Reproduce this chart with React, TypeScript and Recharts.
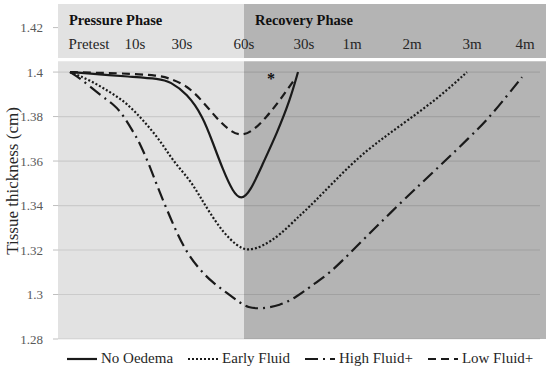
import { ComposedChart, Line, XAxis, YAxis, ReferenceArea, ReferenceLine, ReferenceDot, Legend } from 'recharts';

const FONT = '"Liberation Serif", "Times New Roman", serif';

// x positions are on the chart's own stretched time scale (pretest = 0)
const noOedema = [
  [0, 1.4], [3, 1.399], [5.7, 1.398], [9, 1.397], [10, 1.3957], [11.7, 1.3904], [13.3, 1.38],
  [14.3, 1.368], [15.3, 1.356], [16.3, 1.346], [17.1, 1.3425], [18, 1.346], [19.3, 1.359],
  [20.7, 1.3726], [22, 1.3874], [22.8, 1.4],
];
const earlyFluid = [
  [0, 1.4], [2, 1.3964], [4, 1.391], [5.7, 1.386], [7.3, 1.3784], [9, 1.3694], [10.3, 1.36],
  [12, 1.3515], [13, 1.344], [14, 1.3366], [15.3, 1.328], [16.7, 1.3218], [17.8, 1.3195],
  [19.3, 1.3218], [21, 1.3267], [23, 1.3357], [24, 1.3395], [28.3, 1.3597], [31, 1.3694],
  [33.8, 1.3784], [37, 1.389], [39.7, 1.4],
];
const highFluid = [
  [0, 1.4], [1, 1.3973], [3, 1.3897], [4.5, 1.385], [5.3, 1.3807], [6.2, 1.374], [7, 1.368],
  [8, 1.3574], [8.8, 1.3479], [9.7, 1.338], [10.7, 1.3276], [11.7, 1.3187], [13, 1.311],
  [14.3, 1.3052], [15.7, 1.3007], [17, 1.2962], [17.8, 1.2942], [19, 1.2935], [21, 1.295],
  [22.7, 1.299], [24, 1.3035], [26, 1.3096], [28.3, 1.32], [33, 1.3411], [37.3, 1.3591],
  [40, 1.3709], [41.7, 1.3784], [43.7, 1.3893], [45.2, 1.3977],
];
const lowFluid = [
  [0, 1.4], [2.3, 1.3997], [5, 1.3995], [9, 1.3985], [10, 1.397], [11.7, 1.394], [13.3, 1.3867],
  [14.7, 1.379], [16, 1.3735], [17.1, 1.3712], [18.3, 1.3735], [19.7, 1.38], [21, 1.3874], [22.5, 1.397],
];

const timeTicks = [1.9, 6.5, 11.2, 17.4, 23.4, 28.2, 34.2, 40.2, 45.5];
const timeLabels = ['Pretest', '10s', '30s', '60s', '30s', '1m', '2m', '3m', '4m'];
const yTicks = [1.28, 1.3, 1.32, 1.34, 1.36, 1.38, 1.4, 1.42];
const gridValues = [1.28, 1.3, 1.32, 1.34, 1.36, 1.38, 1.4];

const series = [
  { name: 'No Oedema', data: noOedema, dash: undefined },
  { name: 'Early Fluid', data: earlyFluid, dash: '2 2' },
  { name: 'High Fluid+', data: highFluid, dash: '13 5 2 5' },
  { name: 'Low Fluid+', data: lowFluid, dash: '8 5' },
];

const toPoints = (arr: number[][]) => arr.map(([t, v]) => ({ t, v }));

function TimeTick(props: any) {
  const i = timeTicks.indexOf(props.payload?.value);
  return (
    <text x={props.x} y={49} textAnchor="middle" fontFamily={FONT} fontSize={15} fill="#262626">
      {timeLabels[i] ?? ''}
    </text>
  );
}

function LegendBox() {
  return (
    <div style={{ display: 'flex', height: 28, alignItems: 'flex-end', paddingLeft: 67, fontFamily: FONT, fontSize: 15, color: '#262626' }}>
      {series.map((s) => (
        <div key={s.name} style={{ display: 'flex', alignItems: 'center', marginRight: 15 }}>
          <svg width={30} height={10} style={{ marginRight: 4 }}>
            <line x1={0} y1={5} x2={30} y2={5} stroke="#1a1a1a" strokeWidth={2.2} strokeDasharray={s.dash} />
          </svg>
          <span>{s.name}</span>
        </div>
      ))}
    </div>
  );
}

export default function App() {
  return (
    <div style={{ position: 'absolute', left: 0, top: 0, background: '#fff' }}>
      <ComposedChart width={550} height={369} margin={{ top: 3, right: 2, bottom: 2, left: 0 }}>
        <XAxis
          type="number"
          dataKey="t"
          orientation="top"
          height={1}
          domain={[-1.2, 47.8]}
          ticks={timeTicks}
          interval={0}
          axisLine={false}
          tickLine={false}
          tick={(p: any) => <TimeTick {...p} />}
          allowDataOverflow
        />
        <YAxis
          type="number"
          width={58}
          domain={[1.28, 1.4306]}
          ticks={yTicks}
          interval={0}
          allowDataOverflow
          axisLine={false}
          tickSize={5}
          tickMargin={10}
          tickLine={{ stroke: '#bfbfbf' }}
          tick={{ fontFamily: FONT, fontSize: 13, fill: '#595959' }}
          tickFormatter={(v: number) => String(parseFloat(v.toFixed(2)))}
          label={{
            content: () => (
              <text x={14} y={181} transform="rotate(-90 14 181)" textAnchor="middle" dominantBaseline="middle" fontFamily={FONT} fontSize={17} fill="#262626">
                Tissue thickness (cm)
              </text>
            ),
          }}
        />
        <ReferenceArea x1={-1.2} x2={17.4} y1={1.4063} y2={1.4306} fill="#e2e2e2" fillOpacity={1} stroke="none"
          label={{ value: 'Pressure Phase', position: 'insideTopLeft', offset: 11, fontFamily: FONT, fontSize: 14.5, fontWeight: 'bold', fill: '#111' }} />
        <ReferenceArea x1={17.4} x2={47.6} y1={1.4063} y2={1.4306} fill="#b4b4b4" fillOpacity={1} stroke="none"
          label={{ value: 'Recovery Phase', position: 'insideTopLeft', offset: 11, fontFamily: FONT, fontSize: 14.5, fontWeight: 'bold', fill: '#111' }} />
        <ReferenceArea x1={-1.2} x2={17.4} y1={1.28} y2={1.4049} fill="#e2e2e2" fillOpacity={1} stroke="none" />
        <ReferenceArea x1={17.4} x2={47.6} y1={1.28} y2={1.4049} fill="#b4b4b4" fillOpacity={1} stroke="none" />
        {gridValues.map((g) => (
          <ReferenceLine key={g} segment={[{ x: -1.2, y: g }, { x: 47, y: g }]} stroke="#000" strokeOpacity={0.1} strokeWidth={1.2} />
        ))}
        <ReferenceDot x={20.1} y={1.3973} r={0} stroke="none"
          label={{ value: '*', position: 'center', fontFamily: FONT, fontSize: 16, fontWeight: 'bold', fill: '#111' }} />
        {series.map((s) => (
          <Line
            key={s.name}
            name={s.name}
            data={toPoints(s.data)}
            dataKey="v"
            type="basis"
            stroke="#1a1a1a"
            strokeWidth={2.2}
            strokeDasharray={s.dash}
            dot={false}
            activeDot={false}
            isAnimationActive={false}
          />
        ))}
        <Legend verticalAlign="bottom" content={<LegendBox />} wrapperStyle={{ left: 0, width: 550 }} />
      </ComposedChart>
    </div>
  );
}
